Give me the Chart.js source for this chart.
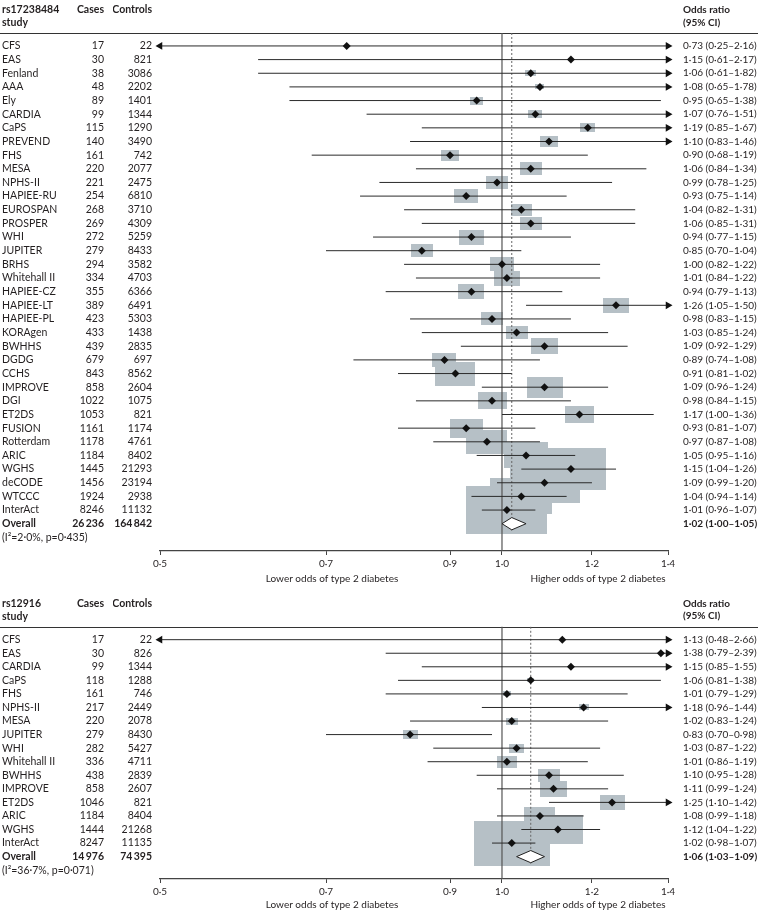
<!DOCTYPE html>
<html>
<head>
<meta charset="utf-8">
<script src="https://cdn.jsdelivr.net/npm/chart.js@4.4.0/dist/chart.umd.min.js"></script>
<style>
  html, body { margin: 0; padding: 0; background: #fff; }
  canvas { display: block; }
</style>
</head>
<body>
<canvas id="topPanel" width="758" height="594"></canvas>
<canvas id="bottomPanel" width="758" height="318"></canvas>
<script>
// ---- rs17238484 ----
var snp1 = "rs17238484";
var studies1 = ["CFS","EAS","Fenland","AAA","Ely","CARDIA","CaPS","PREVEND","FHS","MESA","NPHS-II","HAPIEE-RU","EUROSPAN","PROSPER","WHI","JUPITER","BRHS","Whitehall II","HAPIEE-CZ","HAPIEE-LT","HAPIEE-PL","KORAgen","BWHHS","DGDG","CCHS","IMPROVE","DGI","ET2DS","FUSION","Rotterdam","ARIC","WGHS","deCODE","WTCCC","InterAct"];
var cases1 = [17,30,38,48,89,99,115,140,161,220,221,254,268,269,272,279,294,334,355,389,423,433,439,679,843,858,1022,1053,1161,1178,1184,1445,1456,1924,8246];
var controls1 = [22,821,3086,2202,1401,1344,1290,3490,742,2077,2475,6810,3710,4309,5259,8433,3582,4703,6366,6491,5303,1438,2835,697,8562,2604,1075,821,1174,4761,8402,21293,23194,2938,11132];
var or1 = [0.73,1.15,1.06,1.08,0.95,1.07,1.19,1.10,0.90,1.06,0.99,0.93,1.04,1.06,0.94,0.85,1.00,1.01,0.94,1.26,0.98,1.03,1.09,0.89,0.91,1.09,0.98,1.17,0.93,0.97,1.05,1.15,1.09,1.04,1.01];
var lo1 = [0.25,0.61,0.61,0.65,0.65,0.76,0.85,0.83,0.68,0.84,0.78,0.75,0.82,0.85,0.77,0.70,0.82,0.84,0.79,1.05,0.83,0.85,0.92,0.74,0.81,0.96,0.84,1.00,0.81,0.87,0.95,1.04,0.99,0.94,0.96];
var hi1 = [2.16,2.17,1.82,1.78,1.38,1.51,1.67,1.46,1.19,1.34,1.25,1.14,1.31,1.31,1.15,1.04,1.22,1.22,1.13,1.50,1.15,1.24,1.29,1.08,1.02,1.24,1.15,1.36,1.07,1.08,1.16,1.26,1.20,1.14,1.07];
// study weights (%)
var weight1 = [0.02,0.06,0.31,0.20,0.43,0.50,0.57,0.82,0.82,1.22,1.22,1.46,1.11,1.22,1.58,1.22,1.46,1.71,1.71,1.71,1.22,1.22,1.84,1.46,4.04,3.28,2.13,2.13,2.75,4.25,4.89,12.74,12.39,9.72,16.59];
var totalCases1 = 26236, totalControls1 = 164842;
var overall1 = [1.02, 1.00, 1.05];
var i2_1 = 2.0, pHet1 = 0.435;

// ---- rs12916 ----
var snp2 = "rs12916";
var studies2 = ["CFS","EAS","CARDIA","CaPS","FHS","NPHS-II","MESA","JUPITER","WHI","Whitehall II","BWHHS","IMPROVE","ET2DS","ARIC","WGHS","InterAct"];
var cases2 = [17,30,99,118,161,217,220,279,282,336,438,858,1046,1184,1444,8247];
var controls2 = [22,826,1344,1288,746,2449,2078,8430,5427,4711,2839,2607,821,8404,21268,11135];
var or2 = [1.13,1.38,1.15,1.06,1.01,1.18,1.02,0.83,1.03,1.01,1.10,1.11,1.25,1.08,1.12,1.02];
var lo2 = [0.48,0.79,0.85,0.81,0.79,0.96,0.83,0.70,0.87,0.86,0.95,0.99,1.10,0.99,1.04,0.98];
var hi2 = [2.66,2.39,1.55,1.38,1.29,1.44,1.24,0.98,1.22,1.19,1.28,1.24,1.42,1.18,1.22,1.07];
var weight2 = [0.07,0.07,0.20,0.40,0.52,0.81,1.17,1.83,1.83,3.25,3.93,5.91,5.07,7.80,20.28,46.86];
var totalCases2 = 14976, totalControls2 = 74395;
var overall2 = [1.06, 1.03, 1.09];
var i2_2 = 36.7, pHet2 = 0.071;

// axis
var xMin = 0.5, xMax = 1.4;
var xTicks = [0.5, 0.7, 0.9, 1.0, 1.2, 1.4];
var sideTicks = [0.7, 1.2];
var sideLabels = ["Lower odds of type 2 diabetes", "Higher odds of type 2 diabetes"];

var FONT = "Lato, 'DejaVu Sans', sans-serif";
var INK = "#231f20";
var BOX = "#b6c0c6";
var HEAD1 = -2.64, HEAD2 = -1.73, RULE = -0.95, YMIN = -3;

function dot(v, d) { return v.toFixed(d).replace(".", "\u00b7"); }
function grouped(v) { return String(v).replace(/\B(?=(\d{3})+(?!\d))/g, "\u2009"); }
function orText(o, l, h) { return dot(o, 2) + " (" + dot(l, 2) + "\u2013" + dot(h, 2) + ")"; }

function boxImage(w, scale) {
  var c = document.createElement("canvas");
  var bw = Math.max(1, Math.round(scale * Math.sqrt(w)));
  c.width = bw;
  c.height = Math.max(1, Math.round(bw / 1.7));
  var g = c.getContext("2d");
  g.fillStyle = BOX;
  g.fillRect(0, 0, c.width, c.height);
  return c;
}

var headerRule = {
  id: "headerRule",
  beforeDatasetsDraw: function(chart) {
    var y = Math.round(chart.scales.y.getPixelForValue(RULE)) + 0.5;
    var ctx = chart.ctx;
    ctx.save();
    ctx.strokeStyle = "#333";
    ctx.lineWidth = 1;
    ctx.beginPath();
    ctx.moveTo(0, y);
    ctx.lineTo(chart.width, y);
    ctx.stroke();
    ctx.restore();
  }
};

function drawPanel(id, p) {
  var n = p.studies.length;
  var rows = [HEAD1, HEAD2];
  for (var i = 0; i <= n + 1; i++) rows.push(i);

  var colStudy = [p.snp, "study"].concat(p.studies, ["Overall", "(I\u00b2=" + dot(p.i2, 1) + "%, p=" + dot(p.pHet, 3) + ")"]);
  var colCases = ["Cases", ""].concat(p.cases.map(String), [grouped(p.totCases), ""]);
  var colCtrl = ["Controls", ""].concat(p.controls.map(String), [grouped(p.totControls), ""]);
  var colOr = ["Odds ratio", "(95% CI)"].concat(p.or.map(function(o, k) { return orText(o, p.lo[k], p.hi[k]); }),
              [orText(p.overall[0], p.overall[1], p.overall[2]), ""]);

  function rowAxis(labels, position, weight, width, padding, mirror, size) {
    return {
      type: "linear", position: position, weight: weight, reverse: true,
      min: YMIN, max: p.yMax,
      grid: { display: false, drawTicks: false },
      border: { display: false },
      afterBuildTicks: function(s) { s.ticks = rows.map(function(v) { return { value: v }; }); },
      afterFit: function(s) { s.width = width; s.paddingTop = 0; s.paddingBottom = 0; },
      ticks: {
        autoSkip: false, padding: padding, mirror: mirror, crossAlign: "near", color: INK,
        font: function(c) {
          var bold = c.index < 2 || c.index === n + 2;
          return { family: FONT, size: size, weight: bold ? "bold" : "normal" };
        },
        callback: function(v, k) { return labels[k]; }
      }
    };
  }

  var boxes = p.weight.map(function(w) { return boxImage(w, p.boxScale); });

  var ciData = [];
  p.or.forEach(function(o, k) {
    ciData.push({ x: p.lo[k], y: k }, { x: p.hi[k], y: k }, { x: p.hi[k], y: null });
  });
  var rightArrows = [], leftArrows = [];
  p.hi.forEach(function(h, k) { if (h > xMax) rightArrows.push({ x: xMax, y: k }); });
  p.lo.forEach(function(l, k) { if (l < xMin) leftArrows.push({ x: xMin, y: k }); });

  var ov = p.overall;
  var diamond = [
    { x: ov[1], y: n }, { x: ov[0], y: n - 0.45 }, { x: ov[2], y: n },
    { x: ov[0], y: n + 0.45 }, { x: ov[1], y: n }
  ];

  new Chart(document.getElementById(id), {
    type: "scatter",
    data: {
      datasets: [
        { data: p.or.map(function(o, k) { return { x: o, y: k }; }),
          pointStyle: function(c) { return boxes[c.dataIndex]; },
          pointRadius: 1, order: 6 },
        { type: "line", data: [{ x: 1, y: RULE }, { x: 1, y: p.yMax }],
          borderColor: "#555", borderWidth: 1.2, pointRadius: 0, order: 5 },
        { type: "line", data: [{ x: ov[0], y: RULE }, { x: ov[0], y: n + 0.5 }],
          borderColor: "#666", borderWidth: 1, borderDash: [2, 2], pointRadius: 0, order: 5 },
        { type: "line", data: ciData, borderColor: "#2a2a2a", borderWidth: 1,
          pointRadius: 0, spanGaps: false, order: 4 },
        { data: rightArrows, pointStyle: "triangle", rotation: 90, pointRadius: 4.5,
          backgroundColor: "#111", borderWidth: 0, clip: false, order: 3 },
        { data: leftArrows, pointStyle: "triangle", rotation: -90, pointRadius: 4.5,
          backgroundColor: "#111", borderWidth: 0, clip: false, order: 3 },
        { data: p.or.map(function(o, k) { return { x: o, y: k }; }),
          pointStyle: "rectRot", pointRadius: 4, backgroundColor: "#111", borderWidth: 0, order: 2 },
        { type: "line", data: diamond, borderColor: "#222", borderWidth: 1,
          backgroundColor: "#fff", fill: "shape", pointRadius: 0, order: 1 }
      ]
    },
    options: {
      responsive: false,
      animation: false,
      events: [],
      layout: { padding: { left: 2, top: 1, right: 0, bottom: 0 } },
      plugins: { legend: { display: false }, tooltip: { enabled: false } },
      scales: {
        x: {
          type: "logarithmic", position: "bottom", weight: 0, min: xMin, max: xMax,
          afterBuildTicks: function(s) { s.ticks = xTicks.map(function(v) { return { value: v }; }); },
          afterFit: function(s) { s.height = 20; s.paddingLeft = 0; s.paddingRight = 0; },
          grid: { display: true, drawOnChartArea: false, drawTicks: true, tickLength: 4, color: "#444" },
          border: { display: true, color: "#444", width: 1.2 },
          ticks: { autoSkip: false, maxRotation: 0, padding: 3, color: INK,
                   font: { family: FONT, size: 10 },
                   callback: function(v, k) { return dot(xTicks[k], 1); } }
        },
        x2: {
          type: "logarithmic", position: "bottom", weight: 1, min: xMin, max: xMax,
          afterBuildTicks: function(s) { s.ticks = sideTicks.map(function(v) { return { value: v }; }); },
          afterFit: function(s) { s.height = p.x2Height; s.paddingLeft = 0; s.paddingRight = 0; },
          grid: { display: false, drawTicks: false },
          border: { display: false },
          ticks: { autoSkip: false, maxRotation: 0, padding: p.x2Pad, labelOffset: 6, color: INK,
                   font: { family: FONT, size: 10 },
                   callback: function(v, k) { return sideLabels[k]; } }
        },
        y: rowAxis(colCtrl, "left", 0, 47, 8, false, 10.5),
        yCases: rowAxis(colCases, "left", 1, 111, 9, false, 10.5),
        yStudy: rowAxis(colStudy, "left", 2, 0, 0, true, 10.5),
        yOr: rowAxis(colOr, "right", 0, 90, 15, false, 10)
      }
    },
    plugins: [headerRule]
  });
}

drawPanel("topPanel", {
  snp: snp1, studies: studies1, cases: cases1, controls: controls1,
  or: or1, lo: lo1, hi: hi1, weight: weight1,
  totCases: totalCases1, totControls: totalControls1, overall: overall1,
  i2: i2_1, pHet: pHet1, yMax: 37, x2Height: 23, x2Pad: 2, boxScale: 19.9
});
drawPanel("bottomPanel", {
  snp: snp2, studies: studies2, cases: cases2, controls: controls2,
  or: or2, lo: lo2, hi: hi2, weight: weight2,
  totCases: totalCases2, totControls: totalControls2, overall: overall2,
  i2: i2_2, pHet: pHet2, yMax: 17.65, x2Height: 13, x2Pad: 0, boxScale: 11.1
});
</script>
</body>
</html>
